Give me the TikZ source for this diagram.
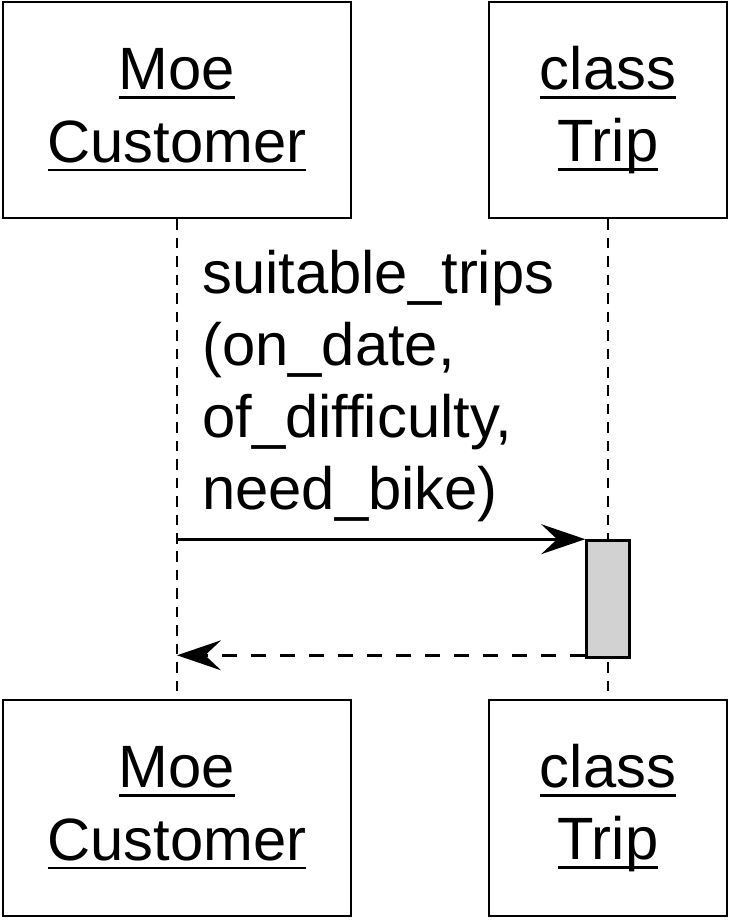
\documentclass[tikz,border=0pt]{standalone}
\usepackage{fontspec}
\setmainfont{Liberation Sans}
\usetikzlibrary{arrows.meta}
\newsavebox\ulbox
\newcommand\ulword[1]{\sbox\ulbox{#1}\rlap{\rule[-5.2pt]{\wd\ulbox}{1.5pt}}\usebox\ulbox}
\begin{document}
\begin{tikzpicture}[x=0.02cm,y=-0.02cm]
\tikzset{objbox/.style = {shape=rectangle,draw,line width=1.6pt,align=center,
    minimum height=4.32cm,inner sep=0pt,font=\fontsize{34}{41}\selectfont},
  lifeline/.style = {line width=1.1pt,dash pattern=on 6pt off 4.5pt},
  actbox/.style = {shape=rectangle,draw,line width=1.5pt,fill=gray!35,
    minimum width=0.86cm,minimum height=2.34cm},
  msg/.style = {line width=1.5pt,-{Stealth[length=25pt,width=17pt,inset=9pt]}},
  reply/.style = {msg,dash pattern=on 8.5pt off 8pt}}
\useasboundingbox (0,0) rectangle (737,924);
% objects
\foreach \pos/\y in {Top/110,Bot/808} {
    \node[objbox,minimum width=6.96cm] (moe\pos) at (177,\y) {\ulword{Moe}\\\ulword{Customer}};
    \node[objbox,minimum width=4.76cm] (trip\pos) at (608,\y) {\ulword{class}\\\ulword{Trip}};
}
% lifelines
\draw[lifeline] (moeTop) -- (moeBot);
\draw[lifeline] (tripTop) -- (tripBot);
\node[actbox] (act) at (608,599) {};
% messages
\node[anchor=north west,inner sep=0pt,align=left,font=\fontsize{34}{41}\selectfont]
    (call) at (202,250) {suitable\_trips\\(on\_date,\\of\_difficulty,\\need\_bike)};
\draw[msg] (moeTop.south |- act.north) -- (act.north west);
\draw[reply] ([yshift=2pt]act.south west) -- ([yshift=2pt]moeTop.south |- act.south);
\end{tikzpicture}
\end{document}
